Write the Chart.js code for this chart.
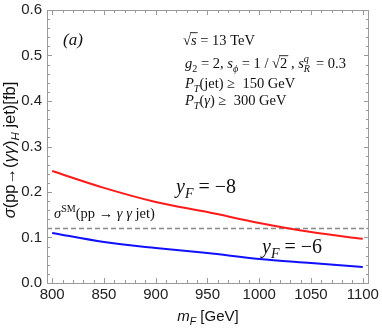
<!DOCTYPE html>
<html>
<head>
<meta charset="utf-8">
<script src="https://cdn.jsdelivr.net/npm/chart.js@4.4.1/dist/chart.umd.min.js"></script>
<style>
  html, body { margin: 0; padding: 0; background: #fff; }
  #wrap { width: 382px; height: 328px; }
</style>
</head>
<body>
<div id="wrap"><canvas id="grafico" width="382" height="328"></canvas></div>
<script>
// masse m_F in GeV
const mF = [800, 850, 900, 950, 1000, 1050, 1100];
// sezione d'urto per y_F = -8 e y_F = -6 (fb)
const sigmaY8 = [0.246, 0.209, 0.178, 0.156, 0.132, 0.112, 0.097];
const sigmaY6 = [0.110, 0.090, 0.077, 0.066, 0.053, 0.044, 0.035];
// fondo SM
const sigmaSM = 0.12;

const xTicks = [800, 850, 900, 950, 1000, 1050, 1100];
const yTicks = [0.0, 0.1, 0.2, 0.3, 0.4, 0.5, 0.6];

const SERIF = '"Liberation Serif", "DejaVu Serif", serif';
const SANS = '"Liberation Sans", Arial, sans-serif';

function punti(xs, ys) {
    return xs.map((x, i) => ({ x: x, y: ys[i] }));
}

// scrive testo con pedici/apici e corsivo
function scriviRicco(ctx, x, y, segs, size, family) {
    let cx = x;
    ctx.textBaseline = "alphabetic";
    ctx.textAlign = "left";
    segs.forEach((s) => {
        let sz = s.size || size;
        let dy = 0;
        if (s.sub) { sz = sz * 0.7; dy = sz * 0.35; }
        if (s.sup) { sz = sz * 0.7; dy = -size * 0.42; }
        ctx.font = (s.i ? "italic " : "") + sz + "px " + (s.f || family);
        const w = ctx.measureText(s.t).width;
        if (s.stack) {
            // apice e pedice sovrapposti
            ctx.font = (s.i ? "italic " : "") + (size * 0.7) + "px " + family;
            ctx.fillText(s.t, cx, y - size * 0.42);
            ctx.fillText(s.stack, cx, y + size * 0.25);
        } else {
            ctx.fillText(s.t, cx, y + dy);
        }
        if (s.over) {
            ctx.save();
            ctx.lineWidth = 0.9;
            ctx.beginPath();
            ctx.moveTo(cx - 1, y - sz * 0.85);
            ctx.lineTo(cx + w + 1, y - sz * 0.85);
            ctx.stroke();
            ctx.restore();
        }
        cx += w + (s.gap || 0);
    });
    return cx - x;
}

function larghezzaRicca(ctx, segs, size, family) {
    let tot = 0;
    segs.forEach((s) => {
        let sz = s.size || size;
        if (s.sub || s.sup) sz = sz * 0.7;
        ctx.font = (s.i ? "italic " : "") + sz + "px " + (s.f || family);
        tot += ctx.measureText(s.t).width + (s.gap || 0);
    });
    return tot;
}

const cornice = {
    id: "cornice",
    afterDatasetsDraw(chart) {
        const ctx = chart.ctx;
        const a = chart.chartArea;
        const sx = chart.scales.x;
        const sy = chart.scales.y;
        ctx.save();
        ctx.strokeStyle = "#9a9a9a";
        ctx.lineWidth = 1;
        ctx.strokeRect(a.left + 0.5, a.top + 0.5, a.right - a.left - 1, a.bottom - a.top);

        // tacche principali e secondarie su tutti i lati
        ctx.beginPath();
        for (let v = 800; v <= 1100; v += 10) {
            const px = Math.round(sx.getPixelForValue(v)) + 0.5;
            const len = (v % 50 === 0) ? 5 : 3;
            ctx.moveTo(px, a.bottom); ctx.lineTo(px, a.bottom - len);
            ctx.moveTo(px, a.top); ctx.lineTo(px, a.top + len);
        }
        for (let k = 0; k <= 30; k++) {
            const v = k * 0.02;
            const py = Math.round(sy.getPixelForValue(v)) + 0.5;
            const len = (k % 5 === 0) ? 5 : 3;
            ctx.moveTo(a.left, py); ctx.lineTo(a.left + len, py);
            ctx.moveTo(a.right, py); ctx.lineTo(a.right - len, py);
        }
        ctx.stroke();

        ctx.fillStyle = "#111";
        ctx.strokeStyle = "#111";

        scriviRicco(ctx, 63, 45, [{ t: "(a)", i: true }], 17, SERIF);

        scriviRicco(ctx, 183, 45, [
            { t: "√", gap: 0 }, { t: "s", i: true, over: true }, { t: " = 13 TeV" }
        ], 14.5, SERIF);
        scriviRicco(ctx, 185, 68, [
            { t: "g", i: true }, { t: "2", sub: true }, { t: " = 2, " },
            { t: "s", i: true }, { t: "ϕ", i: true, sub: true }, { t: " = 1 / " },
            { t: "√", gap: 0 }, { t: "2", over: true }, { t: " , " },
            { t: "s", i: true }, { t: "q", i: true, stack: "R", size: 10 },
            { t: "  = 0.3" }
        ], 14.5, SERIF);
        scriviRicco(ctx, 185, 88, [
            { t: "P", i: true }, { t: "T", i: true, sub: true }, { t: "(jet) ≥  150 GeV" }
        ], 14.5, SERIF);
        scriviRicco(ctx, 185, 105, [
            { t: "P", i: true }, { t: "T", i: true, sub: true }, { t: "(" },
            { t: "γ", i: true }, { t: ") ≥  300 GeV" }
        ], 14.5, SERIF);

        scriviRicco(ctx, 54, 218, [
            { t: "σ", i: true }, { t: "SM", sup: true }, { t: "(pp → " },
            { t: "γ γ", i: true }, { t: " jet)" }
        ], 14.5, SERIF);

        scriviRicco(ctx, 176, 193, [
            { t: "y", i: true }, { t: "F", i: true, sub: true }, { t: " = −8" }
        ], 20, SERIF);
        scriviRicco(ctx, 262, 253, [
            { t: "y", i: true }, { t: "F", i: true, sub: true }, { t: " = −6" }
        ], 20, SERIF);

        // titolo asse x
        const segX = [{ t: "m", i: true }, { t: "F", i: true, sub: true }, { t: " [GeV]" }];
        const wx = larghezzaRicca(ctx, segX, 15, SANS);
        scriviRicco(ctx, (a.left + a.right) / 2 - wx / 2, 321, segX, 15, SANS);

        // titolo asse y
        const segY = [
            { t: "σ", i: true }, { t: "(pp→(" }, { t: "γγ", i: true }, { t: ")" },
            { t: "H", i: true, sub: true }, { t: " jet)[fb]" }
        ];
        const wy = larghezzaRicca(ctx, segY, 16.5, SANS);
        ctx.translate(15, 150);
        ctx.rotate(-Math.PI / 2);
        scriviRicco(ctx, -wy / 2, 0, segY, 16.5, SANS);
        ctx.restore();
    }
};

const ctx = document.getElementById("grafico").getContext("2d");

new Chart(ctx, {
    type: "line",
    data: {
        datasets: [
            {
                label: "y_F = -8",
                data: punti(mF, sigmaY8),
                borderColor: "#ff1a1a",
                borderWidth: 2,
                pointRadius: 0,
                fill: false,
                cubicInterpolationMode: "monotone"
            },
            {
                label: "y_F = -6",
                data: punti(mF, sigmaY6),
                borderColor: "#1010ff",
                borderWidth: 2,
                pointRadius: 0,
                fill: false,
                cubicInterpolationMode: "monotone"
            },
            {
                label: "SM",
                data: [{ x: 795, y: sigmaSM }, { x: 1106, y: sigmaSM }],
                borderColor: "#888888",
                borderWidth: 1.5,
                borderDash: [5, 3],
                pointRadius: 0,
                fill: false
            }
        ]
    },
    options: {
        responsive: false,
        animation: false,
        layout: { padding: { top: 10, right: 13, bottom: 0, left: 0 } },
        plugins: {
            legend: { display: false },
            tooltip: { enabled: false }
        },
        scales: {
            x: {
                type: "linear",
                min: 795,
                max: 1106,
                afterBuildTicks: (s) => { s.ticks = xTicks.map((v) => ({ value: v })); },
                afterFit: (s) => { s.height = 45; s.paddingLeft = 0; s.paddingRight = 0; },
                grid: { display: false, drawTicks: false },
                border: { display: false },
                ticks: {
                    color: "#222",
                    font: { family: SANS, size: 15 },
                    padding: 3,
                    maxRotation: 0,
                    autoSkip: false,
                    callback: (v) => String(v)
                }
            },
            y: {
                type: "linear",
                min: 0,
                max: 0.6,
                afterBuildTicks: (s) => { s.ticks = yTicks.map((v) => ({ value: v })); },
                afterFit: (s) => { s.width = 47; s.paddingTop = 0; s.paddingBottom = 0; },
                grid: { display: false, drawTicks: false },
                border: { display: false },
                ticks: {
                    color: "#222",
                    font: { family: SANS, size: 15 },
                    padding: 5,
                    callback: (v) => Number(v).toFixed(1)
                }
            }
        }
    },
    plugins: [cornice]
});
</script>
</body>
</html>
